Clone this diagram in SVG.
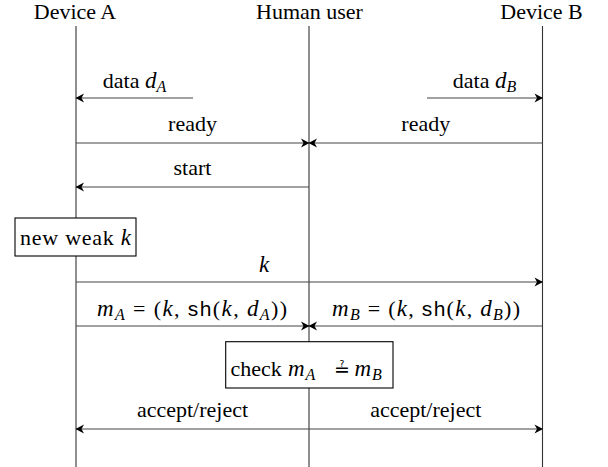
<svg xmlns="http://www.w3.org/2000/svg" width="608" height="467" viewBox="0 0 608 467">
<style>
text{font-family:"Liberation Serif","Times New Roman",serif;font-size:22px;fill:#000;white-space:pre}
.m{font-style:italic;font-size:23px}
.s{font-size:16px;font-style:italic}
.sf{font-family:"Liberation Sans",Arial,sans-serif;font-size:21px}
.c{text-anchor:middle}
.life{stroke:#333;stroke-width:1.1;fill:none}
.arr{stroke:#444;stroke-width:1.2;fill:none;marker-end:url(#ah)}
.box{fill:#fff;stroke:#000;stroke-width:1.1}
</style>
<defs>
<marker id="ah" markerUnits="userSpaceOnUse" markerWidth="12" markerHeight="12" viewBox="-10 -6 12 12" refX="0" refY="0" orient="auto">
<path d="M0.5,0 L-8,-4.6 L-5.5,0 L-8,4.6 Z" fill="#000"/>
</marker>
</defs>
<rect width="608" height="467" fill="#fff"/>
<g id="lifelines">
<line class="life" x1="76" y1="26" x2="76" y2="467"/>
<line class="life" x1="309" y1="26" x2="309" y2="467"/>
<line class="life" x1="542.5" y1="26" x2="542.5" y2="467"/>
</g>
<g id="deviceA"><text class="c" x="75" y="19">Device A</text></g>
<g id="user"><text class="c" x="309.5" y="19">Human user</text></g>
<g id="deviceB"><text class="c" x="541.5" y="19">Device B</text></g>
<g id="connectors">
<line class="arr" x1="193" y1="98" x2="76" y2="98"/>
<text class="c" x="134.5" y="88">data <tspan class="m">d</tspan><tspan class="s" dy="4">A</tspan></text>
<line class="arr" x1="427" y1="98" x2="542.5" y2="98"/>
<text class="c" x="484.5" y="88">data <tspan class="m">d</tspan><tspan class="s" dy="4">B</tspan></text>
<line class="arr" x1="76" y1="143" x2="309" y2="143"/>
<line class="arr" x1="542.5" y1="143" x2="309" y2="143"/>
<text class="c" x="192.5" y="131">ready</text>
<text class="c" x="425.75" y="131">ready</text>
<line class="arr" x1="309" y1="187" x2="76" y2="187"/>
<text class="c" x="192.5" y="175">start</text>
<line class="arr" x1="76" y1="282" x2="542.5" y2="282"/>
<text class="c m" x="264" y="272">k</text>
<line class="arr" x1="76" y1="326" x2="309" y2="326"/>
<line class="arr" x1="542.5" y1="326" x2="309" y2="326"/>
<text class="c" x="192" y="316" textLength="190" lengthAdjust="spacing"><tspan class="m">m</tspan><tspan class="s" dy="4">A</tspan><tspan dy="-4"> = (</tspan><tspan class="m">k</tspan>, <tspan class="sf">sh</tspan>(<tspan class="m">k</tspan>, <tspan class="m">d</tspan><tspan class="s" dy="4">A</tspan><tspan dy="-4">))</tspan></text>
<text class="c" x="426" y="316" textLength="188" lengthAdjust="spacing"><tspan class="m">m</tspan><tspan class="s" dy="4">B</tspan><tspan dy="-4"> = (</tspan><tspan class="m">k</tspan>, <tspan class="sf">sh</tspan>(<tspan class="m">k</tspan>, <tspan class="m">d</tspan><tspan class="s" dy="4">B</tspan><tspan dy="-4">))</tspan></text>
<line class="arr" x1="309" y1="429" x2="76" y2="429"/>
<line class="arr" x1="309" y1="429" x2="542.5" y2="429"/>
<text class="c" x="192.5" y="417">accept/reject</text>
<text class="c" x="425.75" y="417">accept/reject</text>
</g>
<g id="newkey">
<rect class="box" x="15" y="218" width="121" height="38"/>
<text x="20" y="245" textLength="111" lengthAdjust="spacing">new weak <tspan class="m">k</tspan></text>
</g>
<g id="check">
<rect class="box" x="225.7" y="341.7" width="167.3" height="46.3"/>
<text x="230.5" y="376">check</text>
<text class="m" x="288" y="376">m</text>
<text class="s" x="305.5" y="380">A</text>
<text x="334" y="376" style="font-family:'DejaVu Serif','DejaVu Sans',serif;font-size:19px">≟</text>
<text class="m" x="354.5" y="376">m</text>
<text class="s" x="372" y="380">B</text>
</g>
</svg>
